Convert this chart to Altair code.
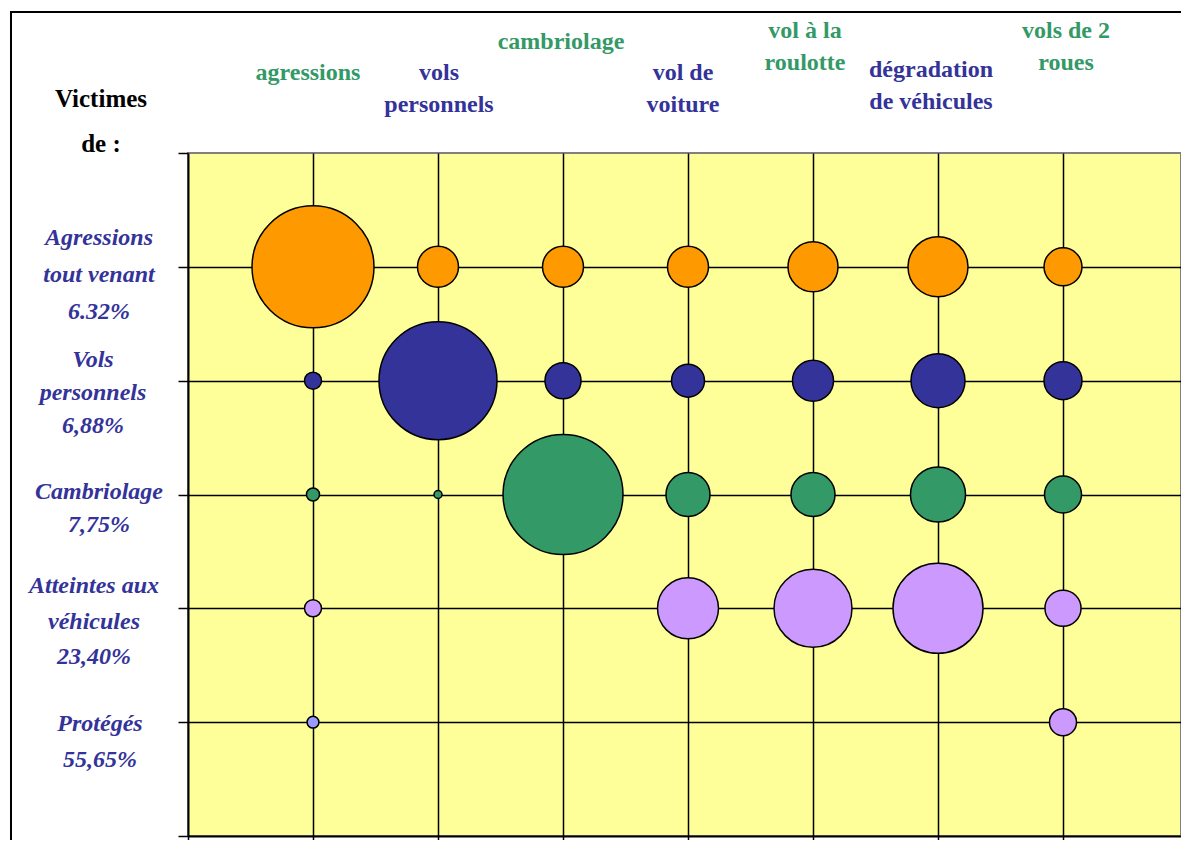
import altair as alt
import pandas as pd

# ---------------- data ----------------
colonnes = ["agressions", "vols personnels", "cambriolage", "vol de voiture",
            "vol à la roulotte", "dégradation de véhicules", "vols de 2 roues"]
col_lignes = [["agressions"], ["vols", "personnels"], ["cambriolage"],
              ["vol de", "voiture"], ["vol à la", "roulotte"],
              ["dégradation", "de véhicules"], ["vols de 2", "roues"]]

lignes = ["Agressions tout venant", "Vols personnels", "Cambriolage",
          "Atteintes aux véhicules", "Protégés"]
ligne_textes = [["Agressions", "tout venant", "6.32%"],
                ["Vols", "personnels", "6,88%"],
                ["Cambriolage", "7,75%"],
                ["Atteintes aux", "véhicules", "23,40%"],
                ["Protégés", "55,65%"]]

# relative bubble areas, one list per row (None = no bubble)
taille_agressions = [148.8, 16.8, 16.8, 16.8, 25.0, 36.0, 14.4]
taille_vols = [2.9, 139.2, 13.0, 10.9, 16.8, 29.2, 14.4]
taille_cambriolage = [1.7, 0.64, 144.0, 19.4, 19.4, 30.3, 13.7]
taille_vehicules = [2.9, None, None, 37.2, 60.8, 81.0, 13.0]
taille_proteges = [1.4, None, None, None, None, None, 7.3]

# colour class of each point in the "Protégés" row
serie_proteges = ["Protégés A", None, None, None, None, None, "Protégés B"]

series = ["Agressions", "Vols", "Cambriolage", "Véhicules", "Protégés A", "Protégés B"]
palette = ["#FF9900", "#333399", "#339966", "#CC99FF", "#9999FF", "#CC99FF"]

# ---------------- table ----------------
rows = []
all_sizes = [taille_agressions, taille_vols, taille_cambriolage, taille_vehicules, taille_proteges]
row_series = [["Agressions"] * 7, ["Vols"] * 7, ["Cambriolage"] * 7, ["Véhicules"] * 7, serie_proteges]
for r, (sizes, sers) in enumerate(zip(all_sizes, row_series)):
    for c, (s, ser) in enumerate(zip(sizes, sers)):
        if s is None:
            continue
        rows.append({"col": c + 1, "rang": 5 - r, "taille": s, "serie": ser,
                     "ligne": lignes[r], "colonne": colonnes[c]})
df = pd.DataFrame(rows)

FONT = "Liberation Serif"

x_enc = alt.X("col:Q", title=None,
              scale=alt.Scale(domain=[0, 7.944], nice=False, zero=False),
              axis=alt.Axis(values=list(range(8)), labels=False, title=None,
                            ticks=True, tickSize=10, tickColor="black", tickWidth=1.5,
                            domain=True, domainColor="black", domainWidth=2,
                            grid=True, gridColor="black", gridWidth=1.5,
                            gridOpacity={"condition": {"test": "datum.value == 0", "value": 0}, "value": 1}))
y_enc = alt.Y("rang:Q", title=None,
              scale=alt.Scale(domain=[0, 6], nice=False, zero=False),
              axis=alt.Axis(values=list(range(7)), labels=False, title=None,
                            ticks=True, tickSize=10, tickColor="black", tickWidth=1.5,
                            domain=True, domainColor="black", domainWidth=2,
                            grid=True, gridColor="black", gridWidth=1.5,
                            gridOpacity={"condition": {"test": "datum.value == 0 || datum.value == 6", "value": 0}, "value": 1}))

bubbles = alt.Chart(df).mark_circle(stroke="black", strokeWidth=1.5, opacity=1).encode(
    x=x_enc,
    y=y_enc,
    color=alt.Color("serie:N", scale=alt.Scale(domain=series, range=palette), legend=None),
    size=alt.Size("taille:Q", scale=alt.Scale(domain=[0, 100], range=[0, 10000]), legend=None),
    tooltip=["ligne", "colonne", "taille"],
)

layers = []

# outer frame
frame = alt.Chart(pd.DataFrame({"k": [0]})).mark_rect(
    fillOpacity=0, stroke="black", strokeWidth=2
).encode(x=alt.value(-177), x2=alt.value(1300), y=alt.value(-141), y2=alt.value(1000))
layers.append(frame)
layers.append(bubbles)

# column labels (top)
col_colors = ["#339966", "#333399", "#339966", "#333399", "#339966", "#333399", "#339966"]
col_base = [-73, -73, -104, -73, -115, -76, -115]
col_dx = [-5, 1, -2, -5, -8, -7, 3]
for i, lines in enumerate(col_lignes):
    t = alt.Chart(pd.DataFrame({"col": [i + 1]})).mark_text(
        font=FONT, fontSize=24, fontWeight="bold", color=col_colors[i],
        align="center", baseline="alphabetic", lineHeight=32, dx=col_dx[i]
    ).encode(x=x_enc, y=alt.value(col_base[i]), text=alt.value(lines))
    layers.append(t)

# row labels (left)
row_dy = [-22, -14, 4, -15, 9]
row_lh = [37, 33, 33, 35.5, 36]
row_x = [-89, -95, -89, -94, -88]
for r, lines in enumerate(ligne_textes):
    t = alt.Chart(pd.DataFrame({"rang": [5 - r]})).mark_text(
        font=FONT, fontSize=24, fontWeight="bold", fontStyle="italic", color="#333399",
        align="center", baseline="alphabetic", lineHeight=row_lh[r], dy=row_dy[r]
    ).encode(x=alt.value(row_x[r]), y=y_enc, text=alt.value(lines))
    layers.append(t)

victimes = alt.Chart(pd.DataFrame({"k": [0]})).mark_text(
    font=FONT, fontSize=25, fontWeight="bold", color="black",
    align="center", baseline="alphabetic", lineHeight=45
).encode(x=alt.value(-87), y=alt.value(-46), text=alt.value(["Victimes", "de :"]))
layers.append(victimes)

chart = alt.layer(*layers).properties(
    width=993, height=683,
    autosize=alt.AutoSizeParams(type="none"),
    padding={"left": 180, "top": 145, "right": 0, "bottom": 4},
).configure_view(
    fill="#FFFF99", stroke="#808080", strokeWidth=2
)

chart.save("out.html", embed_options={"renderer": "svg", "actions": False})
